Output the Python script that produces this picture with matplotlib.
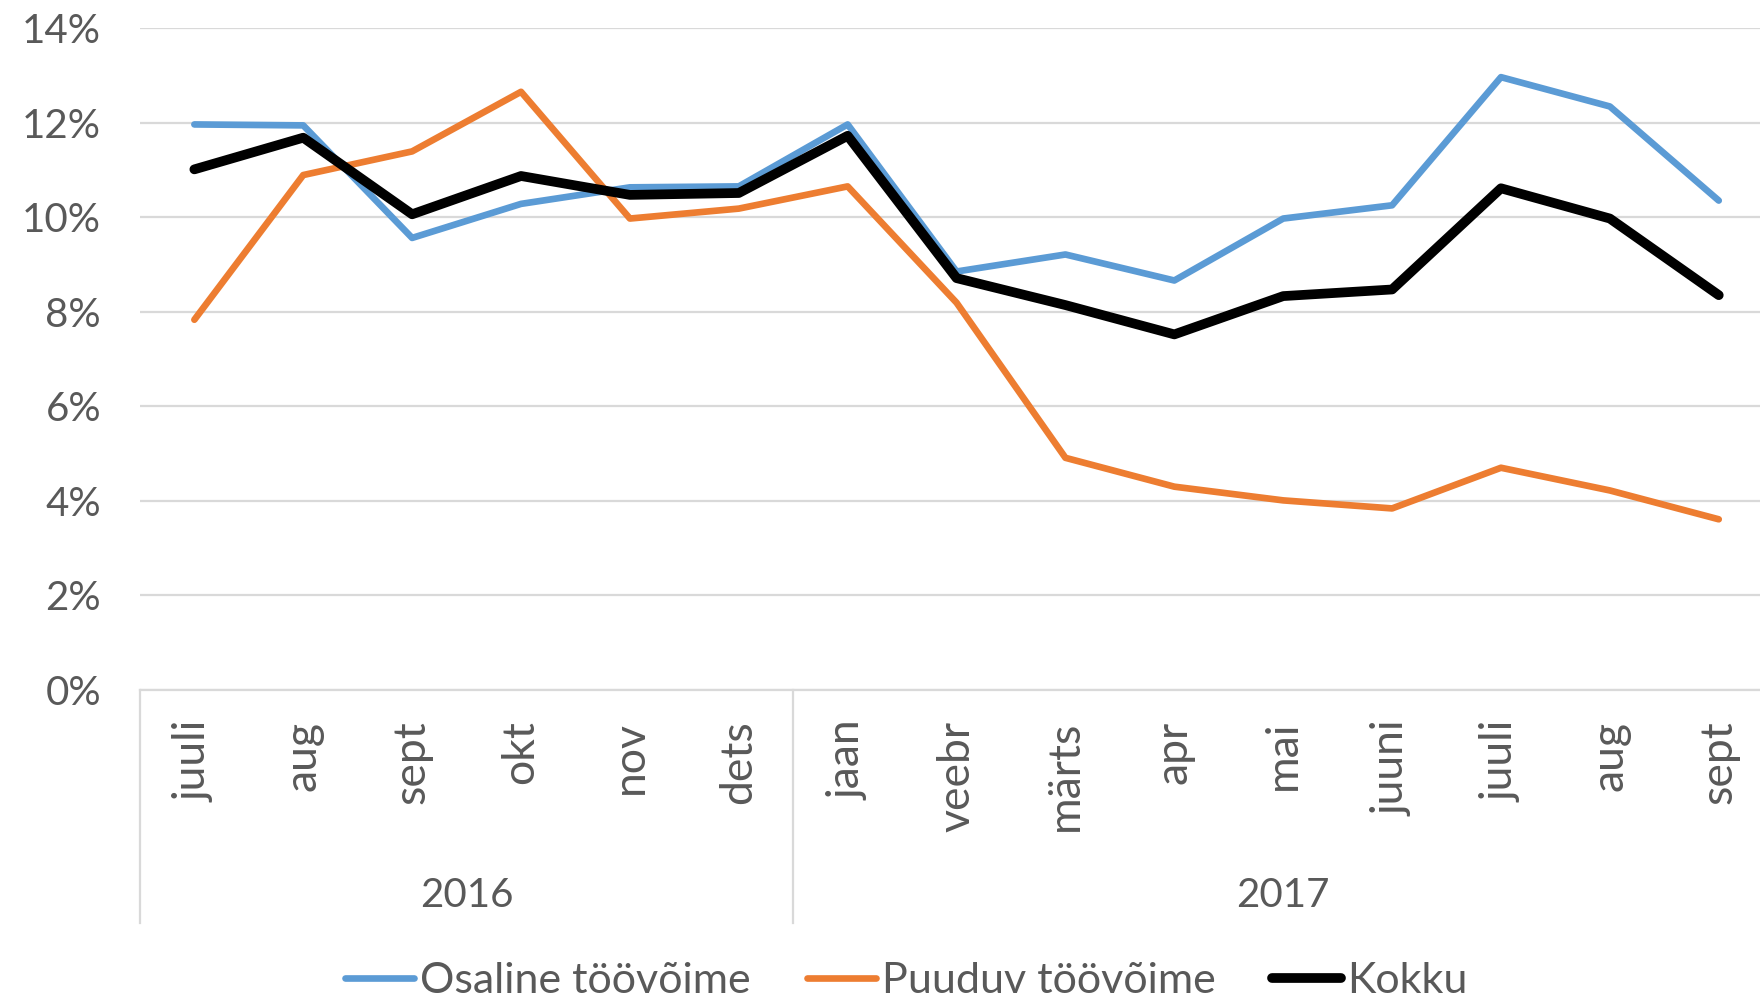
import numpy as np
import matplotlib
matplotlib.use("Agg")
import matplotlib.pyplot as plt
from matplotlib.ticker import PercentFormatter
import matplotlib.transforms as mtransforms

plt.rcParams['font.family'] = ['Lato', 'DejaVu Sans']

# months (two years) and values in percent
months = ["juuli", "aug", "sept", "okt", "nov", "dets",
          "jaan", "veebr", "märts", "apr", "mai", "juuni", "juuli", "aug", "sept"]
years = ["2016", "2017"]
year_len = [6, 9]

osaline = [11.96, 11.94, 9.56, 10.28, 10.63, 10.65, 11.96, 8.85, 9.21, 8.66,
           9.97, 10.25, 12.96, 12.34, 10.35]
puuduv = [7.83, 10.89, 11.39, 12.65, 9.97, 10.18, 10.65, 8.19, 4.91, 4.30,
          4.01, 3.84, 4.70, 4.22, 3.61]
kokku = [11.01, 11.68, 10.06, 10.87, 10.47, 10.51, 11.72, 8.71, 8.14, 7.52,
         8.33, 8.47, 10.61, 9.97, 8.35]

txt = "#595959"
grid = "#D9D9D9"

fig = plt.figure(figsize=(17.6, 9.99), dpi=100)
ax = fig.add_axes([0.0795, 0.3093, 0.928, 0.6627])

x = np.arange(len(months))
ax.plot(x, osaline, color="#5B9BD5", lw=4.8, label="Osaline töövõime", solid_joinstyle="round", solid_capstyle="round")
ax.plot(x, puuduv, color="#ED7D31", lw=4.8, label="Puuduv töövõime", solid_joinstyle="round", solid_capstyle="round")
ax.plot(x, kokku, color="black", lw=7, label="Kokku", solid_joinstyle="round", solid_capstyle="round")

ax.set_xlim(-0.5, len(months) - 0.5)
ax.set_ylim(0, 14)
ax.set_yticks(np.arange(0, 15, 2))
ax.yaxis.set_major_formatter(PercentFormatter(100, decimals=0))
ax.grid(axis="y", color=grid, lw=1.6)
ax.set_axisbelow(True)
for s in ["top", "right", "left"]:
    ax.spines[s].set_visible(False)
ax.spines["bottom"].set_color(grid)
ax.spines["bottom"].set_linewidth(1.6)

ax.set_xticks(x)
ax.set_xticklabels(months, rotation=90, va="top", ha="center")
ax.tick_params(axis="x", length=0, pad=22, labelsize=32, labelcolor=txt)
ax.tick_params(axis="y", length=0, pad=28, labelsize=29, labelcolor=txt)

# year groups under the month labels
trans = mtransforms.blended_transform_factory(ax.transData, ax.transAxes)
start = -0.5
bounds = [start]
for n in year_len:
    bounds.append(bounds[-1] + n)
for b in bounds[:-1]:
    ax.plot([b, b], [0, -0.352], transform=trans, color=grid, lw=1.6, clip_on=False)
for i, yr in enumerate(years):
    mid = (bounds[i] + bounds[i + 1]) / 2
    ax.text(mid, -0.311, yr, transform=trans, ha="center", va="center",
            fontsize=29, color=txt)

leg = fig.legend(loc="center", bbox_to_anchor=(0.515, 0.018), ncol=3, frameon=False,
                 fontsize=31, handlelength=1.6, handletextpad=0.15, columnspacing=1.3)
for t in leg.get_texts():
    t.set_color(txt)

fig.savefig("out.png", dpi=100)
